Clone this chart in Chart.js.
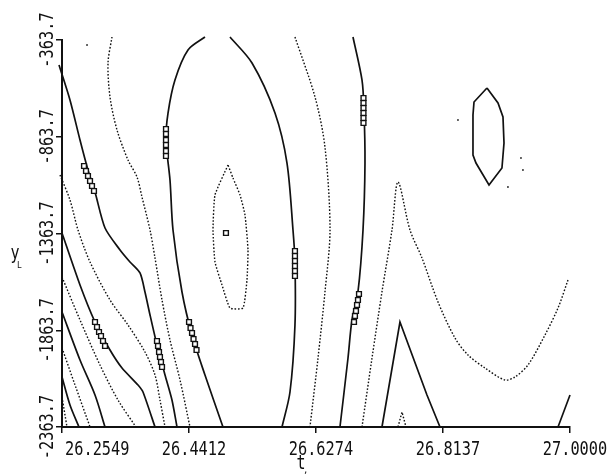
<!DOCTYPE html>
<html><head><meta charset="utf-8">
<script src="https://cdn.jsdelivr.net/npm/chart.js@4.4.1/dist/chart.umd.min.js"></script>
<style>html,body{margin:0;padding:0;background:#fff;}canvas{display:block;}</style>
</head><body>
<canvas id="c" width="609" height="475"></canvas>
<script>
// ---- axes ----
const xTicks = [26.2549, 26.4412, 26.6274, 26.8137, 27.0000];
const xTickLabels = ['26.2549', '26.4412', '26.6274', '26.8137', '27.0000'];
const yTicks = [-363.7, -863.7, -1363.7, -1863.7, -2363.7];
const yTickLabels = ['-363.7', '-863.7', '-1363.7', '-1863.7', '-2363.7'];
const xTitle = 't';
const yTitle = 'y';

// ---- contour lines (t, y) ----
const f1x = [26.2549, 26.2622];
const f1y = [-2208.7, -2363.7];
const f2x = [26.2549, 26.2666, 26.2798];
const f2y = [-2105.3, -2250.1, -2363.7];
const f3x = [26.2549, 26.2740, 26.2960];
const f3y = [-1955.4, -2146.7, -2363.7];
const f4x = [26.2549, 26.2813, 26.3033, 26.3180];
const f4y = [-1769.4, -2017.5, -2198.4, -2363.7];
const f5x = [26.2549, 26.2813, 26.3106, 26.3370, 26.3634];
const f5y = [-1588.5, -1810.7, -2043.3, -2224.2, -2363.7];
const f6x = [26.2549, 26.2813, 26.3033, 26.3253, 26.3429, 26.3664, 26.3737, 26.3913];
const f6y = [-1361.1, -1629.7, -1821.1, -1965.8, -2058.8, -2146.7, -2182.9, -2363.7];
const f7x = [26.2520, 26.2666, 26.2784, 26.2960, 26.3253, 26.3517, 26.3766, 26.3913, 26.3986, 26.4060];
const f7y = [-1061.4, -1190.6, -1345.6, -1510.9, -1707.3, -1836.6, -1976.1, -2095.0, -2224.2, -2363.7];
const c1x = [26.2505, 26.2666, 26.2813, 26.2930, 26.3033, 26.3180, 26.3400, 26.3546, 26.3693, 26.3766, 26.3840, 26.3942, 26.4060, 26.4162, 26.4236];
const c1y = [-492.9, -673.8, -880.5, -1035.5, -1149.2, -1335.3, -1448.9, -1510.9, -1567.8, -1665.9, -1784.9, -1939.9, -2095.0, -2224.2, -2363.7];
const d1x = [26.3282, 26.3224, 26.3253, 26.3356, 26.3517, 26.3649, 26.3722, 26.3840, 26.3913, 26.4016, 26.4133, 26.4280, 26.4426];
const d1y = [-348.2, -482.6, -658.3, -828.8, -983.9, -1071.7, -1175.1, -1345.6, -1490.3, -1707.3, -1914.1, -2120.8, -2363.7];
const d2x = [26.4646, 26.4397, 26.4206, 26.4104, 26.4074, 26.4133, 26.4177, 26.4309, 26.4456, 26.4646, 26.4910];
const d2y = [-348.2, -415.4, -570.4, -741.0, -880.5, -1087.2, -1345.6, -1665.9, -1888.3, -2095.0, -2363.7];
const e1x = [26.4984, 26.4793, 26.4764, 26.4793, 26.4896, 26.5013, 26.5204, 26.5262, 26.5277, 26.5233, 26.5160, 26.5057, 26.4984];
const e1y = [-1009.7, -1164.7, -1345.6, -1510.9, -1629.7, -1748.7, -1748.7, -1603.9, -1448.9, -1268.1, -1164.7, -1076.9, -1009.7];
const d3x = [26.5013, 26.5336, 26.5673, 26.5849, 26.5937, 26.5966, 26.5966, 26.5893, 26.5776];
const d3y = [-348.2, -482.6, -741.0, -999.4, -1345.6, -1510.9, -1836.6, -2182.9, -2363.7];
const d4x = [26.5966, 26.6260, 26.6406, 26.6480, 26.6406, 26.6304, 26.6186];
const d4y = [-348.2, -658.3, -916.7, -1345.6, -1665.9, -2007.1, -2363.7];
const d5x = [26.6817, 26.6949, 26.6978, 26.6993, 26.6964, 26.6890, 26.6802, 26.6744, 26.6626];
const d5y = [-348.2, -570.4, -725.5, -999.4, -1345.6, -1665.9, -1810.7, -2007.1, -2363.7];
const d6x = [26.6949, 26.7096, 26.7242, 26.7389, 26.7477, 26.7653, 26.7829, 26.8064, 26.8313, 26.8504, 26.8753, 26.9046, 26.9193, 26.9384, 26.9633, 26.9824, 26.9971];
const d6y = [-2363.7, -2007.1, -1665.9, -1345.6, -1097.6, -1345.6, -1490.3, -1717.7, -1903.8, -1991.6, -2058.8, -2120.8, -2105.3, -2043.3, -1888.3, -1748.7, -1603.9];
const d7x = [26.7242, 26.7506, 26.7902, 26.8093];
const d7y = [-2363.7, -1821.1, -2198.4, -2363.7];
const d8x = [26.7477, 26.7536, 26.7594];
const d8y = [-2363.7, -2286.2, -2363.7];
const d9x = [26.9824, 27.0000];
const d9y = [-2363.7, -2198.4];
const e2x = [26.8782, 26.8592, 26.8577, 26.8577, 26.8621, 26.8812, 26.9002, 26.9032, 26.9017, 26.8944, 26.8782];
const e2y = [-611.8, -684.1, -751.3, -958.0, -999.4, -1113.1, -1025.2, -896.0, -761.6, -689.3, -611.8];

// ---- contour label markers ----
const labAx = [26.2872, 26.2901, 26.2930, 26.2960, 26.2989, 26.3018];
const labAy = [-1014.9, -1040.7, -1066.5, -1092.4, -1118.2, -1144.1];
const labBx = [26.4074, 26.4074, 26.4074, 26.4074, 26.4074, 26.4074];
const labBy = [-823.6, -849.5, -880.5, -906.3, -937.4, -963.2];
const labCx = [26.6971, 26.6971, 26.6971, 26.6971, 26.6971, 26.6971];
const labCy = [-663.4, -689.3, -715.1, -741.0, -766.8, -792.6];
const labDx = [26.5966, 26.5966, 26.5966, 26.5966, 26.5966, 26.5966];
const labDy = [-1454.1, -1480.0, -1505.8, -1531.7, -1557.5, -1583.3];
const labEx = [26.6905, 26.6890, 26.6876, 26.6861, 26.6846, 26.6832];
const labEy = [-1676.4, -1707.4, -1733.2, -1764.2, -1790.1, -1821.1];
const labFx = [26.3033, 26.3062, 26.3092, 26.3121, 26.3150, 26.3180];
const labFy = [-1821.1, -1846.9, -1872.8, -1893.4, -1919.3, -1945.1];
const labGx = [26.3942, 26.3957, 26.3972, 26.3986, 26.4001, 26.4016];
const labGy = [-1919.3, -1945.1, -1976.1, -2002.0, -2027.8, -2053.6];
const labHx = [26.4412, 26.4434, 26.4456, 26.4478, 26.4500, 26.4522];
const labHy = [-1821.1, -1852.1, -1877.9, -1908.9, -1934.8, -1965.8];
const labIx = [26.4954];
const labIy = [-1361.1];

// ---- stray specks ----
const speckX = [26.2916, 26.8357, 26.9281, 26.9310, 26.9090];
const speckY = [-389.5, -777.1, -973.5, -1035.5, -1123.4];

function pts(xs, ys) { return xs.map((x, i) => ({ x: x, y: ys[i] })); }

const lineDefs = [
  [f1x, f1y, 'dot', 0], [f2x, f2y, 'solid', 0.3], [f3x, f3y, 'dot', 0.3],
  [f4x, f4y, 'solid', 0.3], [f5x, f5y, 'dot', 0.3], [f6x, f6y, 'solid', 0.2],
  [f7x, f7y, 'dot', 0.3], [c1x, c1y, 'solid', 0.25], [d1x, d1y, 'dot', 0.3],
  [d2x, d2y, 'solid', 0.3], [e1x, e1y, 'dot', 0.15], [d3x, d3y, 'solid', 0.3],
  [d4x, d4y, 'dot', 0.3], [d5x, d5y, 'solid', 0.3], [d6x, d6y, 'dot', 0.3],
  [d7x, d7y, 'solid', 0], [d8x, d8y, 'dot', 0], [d9x, d9y, 'solid', 0],
  [e2x, e2y, 'solid', 0]
];
const labelDefs = [
  [labAx, labAy], [labBx, labBy], [labCx, labCy], [labDx, labDy], [labEx, labEy],
  [labFx, labFy], [labGx, labGy], [labHx, labHy], [labIx, labIy]
];

const datasets = [];
lineDefs.forEach(d => {
  datasets.push({
    data: pts(d[0], d[1]), showLine: true, pointRadius: 0, order: 2, clip: false,
    borderColor: '#111', borderWidth: d[2] === 'dot' ? 1.4 : 1.7,
    borderDash: d[2] === 'dot' ? [1.6, 1.8] : [], tension: d[3]
  });
});
labelDefs.forEach(d => {
  datasets.push({
    data: pts(d[0], d[1]), showLine: false, order: 0, pointStyle: 'rect',
    pointRadius: 3.4, borderWidth: 1.4, borderColor: '#111', backgroundColor: '#fff'
  });
});
datasets.push({
  data: pts(speckX, speckY), showLine: false, order: 1, pointRadius: 0.9,
  borderWidth: 0, backgroundColor: '#222'
});

const FONT = '15px "DejaVu Sans Mono", monospace';
const textPlugin = {
  id: 'plotterText',
  afterDraw(chart) {
    const ctx = chart.ctx, xs = chart.scales.x, ys = chart.scales.y;
    ctx.save();
    ctx.fillStyle = '#111';
    ctx.font = FONT;
    ctx.textBaseline = 'alphabetic';
    // y tick labels (rotated)
    yTicks.forEach((v, i) => {
      const py = ys.getPixelForValue(v);
      ctx.save();
      ctx.translate(53, py);
      ctx.rotate(-Math.PI / 2);
      ctx.scale(1.02, 1.32);
      ctx.textAlign = 'center';
      ctx.fillText(yTickLabels[i], 0, 0);
      ctx.restore();
    });
    // x tick labels
    xTicks.forEach((v, i) => {
      const px = xs.getPixelForValue(v);
      ctx.save();
      if (i === 0) { ctx.translate(px + 3, 455); ctx.textAlign = 'left'; }
      else { ctx.translate(px + 5, 455); ctx.textAlign = 'center'; }
      ctx.scale(1.02, 1.32);
      ctx.fillText(xTickLabels[i], 0, 0);
      ctx.restore();
    });
    // axis titles
    ctx.save();
    ctx.translate(301, 469); ctx.scale(1, 1.3); ctx.textAlign = 'center';
    ctx.fillText(xTitle, 0, 0);
    ctx.restore();
    ctx.save();
    ctx.font = '9px "DejaVu Sans Mono", monospace';
    ctx.fillText(',', 303, 473);
    ctx.restore();
    ctx.save();
    ctx.translate(15, 259); ctx.scale(1, 1.3); ctx.textAlign = 'center';
    ctx.fillText(yTitle, 0, 0);
    ctx.restore();
    ctx.save();
    ctx.font = '8px "DejaVu Sans Mono", monospace';
    ctx.fillText('L', 17, 268);
    ctx.restore();
    ctx.restore();
  }
};

new Chart(document.getElementById('c'), {
  type: 'scatter',
  data: { datasets: datasets },
  options: {
    responsive: false, animation: false, devicePixelRatio: 1,
    layout: { padding: { left: 0, top: 40, right: 39, bottom: 0 } },
    plugins: { legend: { display: false }, tooltip: { enabled: false } },
    scales: {
      x: {
        type: 'linear', min: xTicks[0], max: xTicks[xTicks.length - 1],
        afterBuildTicks: s => { s.ticks = xTicks.map(v => ({ value: v })); },
        afterFit: s => { s.height = 48; },
        ticks: { display: false },
        grid: { display: true, drawOnChartArea: false, drawTicks: true, tickLength: 6, color: '#111', lineWidth: 1.5 },
        border: { display: true, color: '#111', width: 2 }
      },
      y: {
        type: 'linear', min: yTicks[yTicks.length - 1], max: yTicks[0],
        afterBuildTicks: s => { s.ticks = yTicks.map(v => ({ value: v })); },
        afterFit: s => { s.width = 62; },
        ticks: { display: false },
        grid: { display: true, drawOnChartArea: false, drawTicks: true, tickLength: 6, color: '#111', lineWidth: 1.5 },
        border: { display: true, color: '#111', width: 2 }
      }
    }
  },
  plugins: [textPlugin]
});
</script>
</body></html>
